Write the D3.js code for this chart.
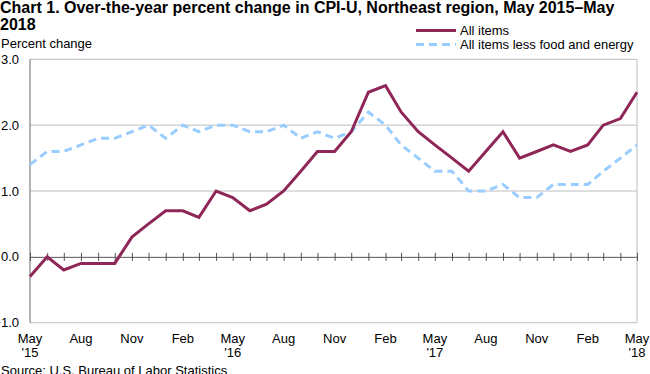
<!DOCTYPE html>
<html>
<head>
<meta charset="utf-8">
<script src="https://cdn.jsdelivr.net/npm/d3@7"></script>
<style>
  body { margin: 0; background: #fff; }
  svg { display: block; font-family: "Liberation Sans", Arial, sans-serif; }
</style>
</head>
<body>
<div id="chart"></div>
<script>
// months May 2015 .. May 2018
const months = d3.timeMonth.range(new Date(2015, 4, 1), new Date(2018, 5, 1));

const allItems = [
  -0.3, 0.0, -0.2, -0.1, -0.1, -0.1, 0.3, 0.5, 0.7, 0.7, 0.6, 1.0,
  0.9, 0.7, 0.8, 1.0, 1.3, 1.6, 1.6, 1.9, 2.5, 2.6, 2.2, 1.9,
  1.7, 1.5, 1.3, 1.6, 1.9, 1.5, 1.6, 1.7, 1.6, 1.7, 2.0, 2.1, 2.5
];
const coreItems = [
  1.4, 1.6, 1.6, 1.7, 1.8, 1.8, 1.9, 2.0, 1.8, 2.0, 1.9, 2.0,
  2.0, 1.9, 1.9, 2.0, 1.8, 1.9, 1.8, 1.9, 2.2, 2.0, 1.7, 1.5,
  1.3, 1.3, 1.0, 1.0, 1.1, 0.9, 0.9, 1.1, 1.1, 1.1, 1.3, 1.5, 1.7
];
const seriesNames = ["All items", "All items less food and energy"];
const yTicks = [-1, 0, 1, 2, 3];

const width = 650, height = 374;
const margin = {top: 59.3, right: 13, bottom: 51.3, left: 30};
const fs = "13px";

const svg = d3.select("#chart").append("svg")
  .attr("width", width)
  .attr("height", height);

const x = d3.scaleTime()
  .domain(d3.extent(months))
  .range([margin.left, width - margin.right]);

const y = d3.scaleLinear()
  .domain([-1, 3])
  .range([height - margin.bottom, margin.top]);

// title
svg.append("text")
  .attr("x", 0).attr("y", 12.5)
  .attr("font-size", "16px").attr("font-weight", "bold").attr("fill", "#000")
  .text("Chart 1. Over-the-year percent change in CPI-U, Northeast region, May 2015\u2013May");
svg.append("text")
  .attr("x", 0).attr("y", 29.5)
  .attr("font-size", "16px").attr("font-weight", "bold").attr("fill", "#000")
  .text("2018");

svg.append("text")
  .attr("x", 1).attr("y", 47.5)
  .attr("font-size", fs).attr("fill", "#000")
  .text("Percent change");

// gridlines
svg.append("g")
  .selectAll("line")
  .data(yTicks.filter(d => d !== 0))
  .join("line")
  .attr("x1", margin.left).attr("x2", width - margin.right)
  .attr("y1", d => y(d)).attr("y2", d => y(d))
  .attr("stroke", "#bdbdbd").attr("stroke-width", 1);

// right border
svg.append("line")
  .attr("x1", width - margin.right).attr("x2", width - margin.right)
  .attr("y1", y(3)).attr("y2", y(-1))
  .attr("stroke", "#bdbdbd");

// y tick labels
svg.append("g")
  .selectAll("text")
  .data(yTicks)
  .join("text")
  .attr("x", 19)
  .attr("y", d => y(d) + 4.5)
  .attr("text-anchor", "end")
  .attr("font-size", fs)
  .attr("fill", "#000")
  .text(d => d3.format(".1f")(d));

// left axis
svg.append("line")
  .attr("x1", margin.left).attr("x2", margin.left)
  .attr("y1", y(3)).attr("y2", y(-1))
  .attr("stroke", "#666").attr("stroke-width", 1);

// zero line with monthly ticks
const zeroAxis = d3.axisBottom(x)
  .tickValues(months)
  .tickSize(0)
  .tickFormat("");
const zg = svg.append("g")
  .attr("transform", `translate(0,${y(0)})`)
  .call(zeroAxis);
zg.select(".domain").attr("stroke", "#555");
zg.selectAll(".tick line").remove();
zg.selectAll(".tick").append("line")
  .attr("y1", -4).attr("y2", 4)
  .attr("stroke", "#555");

// x labels every 3 months
const labelMonths = months.filter(d => (d.getMonth() - 4 + 12) % 3 === 0);
const xl = svg.append("g")
  .selectAll("g")
  .data(labelMonths)
  .join("g")
  .attr("transform", d => `translate(${x(d)},0)`);
xl.append("text")
  .attr("y", 342.5)
  .attr("text-anchor", "middle")
  .attr("font-size", fs)
  .attr("fill", "#000")
  .text(d => d3.timeFormat("%b")(d));
xl.filter(d => d.getMonth() === 4).append("text")
  .attr("y", 357)
  .attr("text-anchor", "middle")
  .attr("font-size", fs)
  .attr("fill", "#000")
  .text(d => "'" + d3.timeFormat("%y")(d));

// lines
const line = d3.line()
  .x((d, i) => x(months[i]))
  .y(d => y(d));

svg.append("path")
  .datum(coreItems)
  .attr("d", line)
  .attr("fill", "none")
  .attr("stroke", "#99ccff")
  .attr("stroke-width", 3)
  .attr("stroke-dasharray", "8,5");

svg.append("path")
  .datum(allItems)
  .attr("d", line)
  .attr("fill", "none")
  .attr("stroke", "#8e2657")
  .attr("stroke-width", 3)
  .attr("stroke-linejoin", "miter");

// legend
const legend = svg.append("g");
const legendStyles = [
  {color: "#8e2657", dash: null},
  {color: "#99ccff", dash: "8,5"}
];
seriesNames.forEach((name, i) => {
  const yy = 30.5 + i * 14;
  legend.append("line")
    .attr("x1", 416).attr("x2", 456)
    .attr("y1", yy).attr("y2", yy)
    .attr("stroke", legendStyles[i].color)
    .attr("stroke-width", 3)
    .attr("stroke-dasharray", legendStyles[i].dash);
  legend.append("text")
    .attr("x", 460).attr("y", yy + 4.5)
    .attr("font-size", fs)
    .attr("fill", "#000")
    .text(name);
});

// source
svg.append("text")
  .attr("x", 1).attr("y", 375)
  .attr("font-size", fs)
  .attr("fill", "#000")
  .text("Source: U.S. Bureau of Labor Statistics");
</script>
</body>
</html>
